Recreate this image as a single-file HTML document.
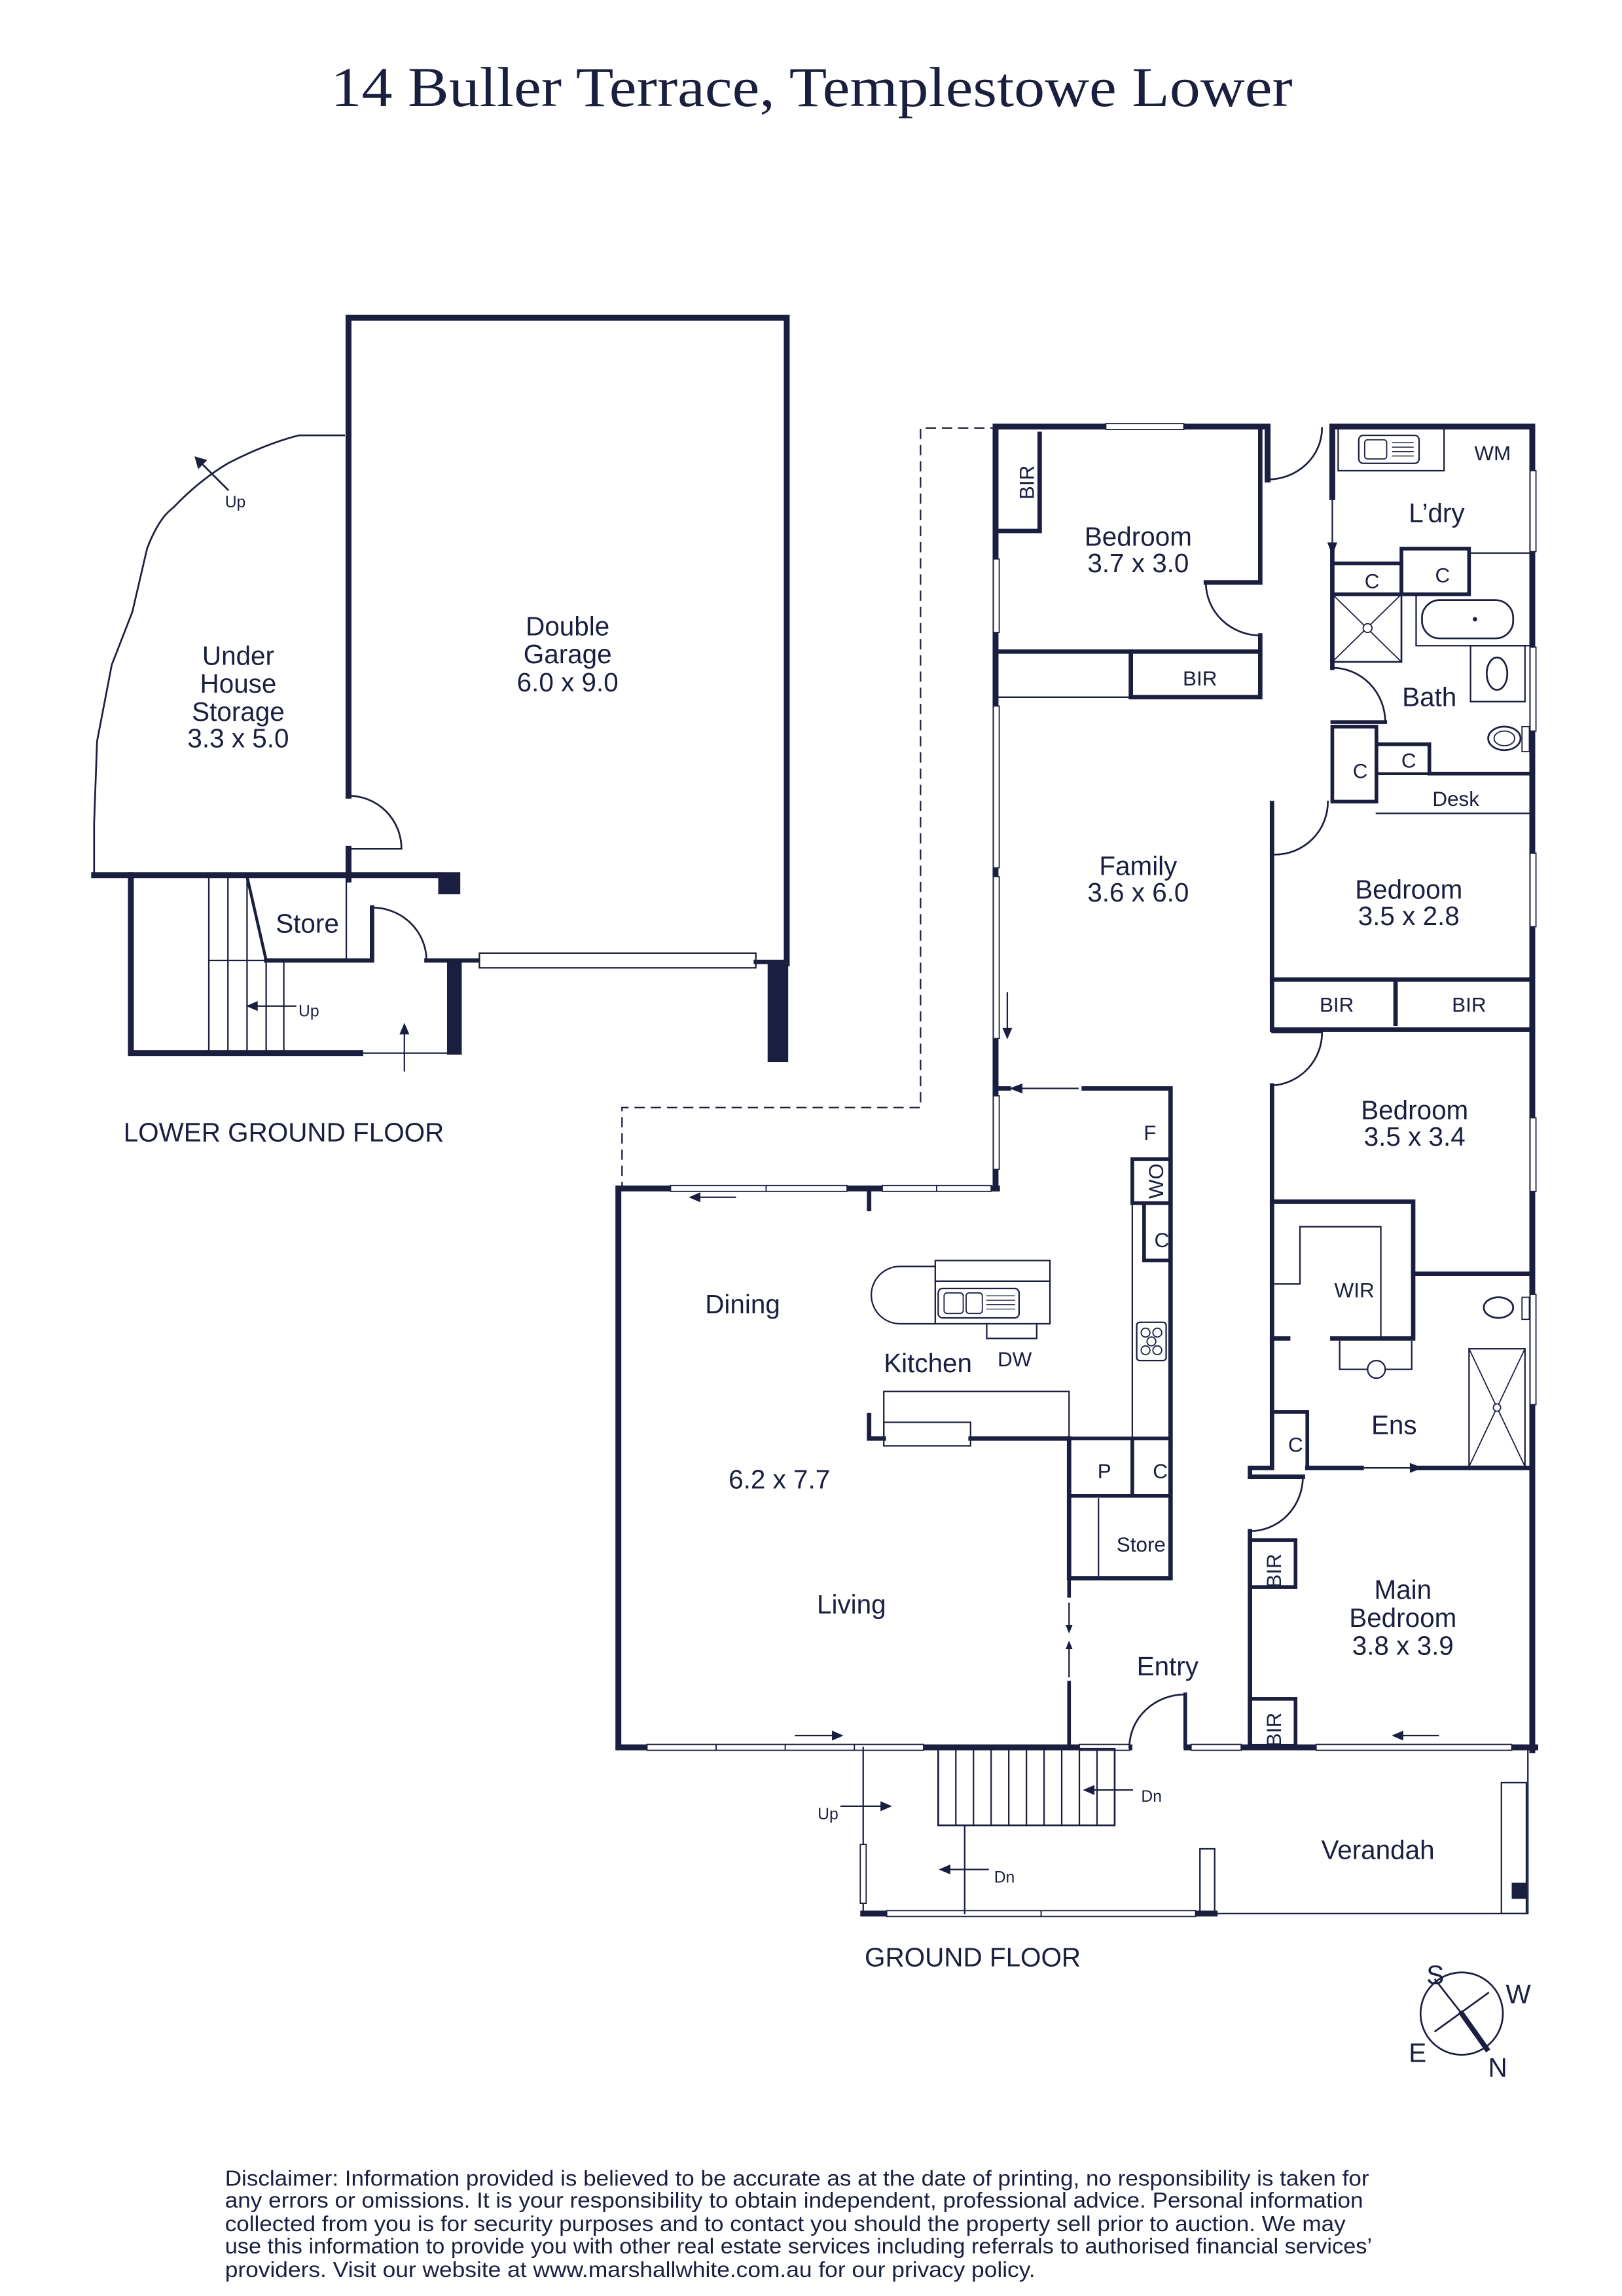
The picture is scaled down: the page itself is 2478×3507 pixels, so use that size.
<!DOCTYPE html>
<html><head><meta charset="utf-8"><style>
html,body{margin:0;padding:0;background:#fff;}
svg{display:block;}
text{font-family:"Liberation Sans",sans-serif;fill:#1b1f3f;}
</style></head><body>
<svg width="2478" height="3507" viewBox="0 0 1103 1561" xmlns="http://www.w3.org/2000/svg">
<rect width="1103" height="1561" fill="#fff"/>
<text x="552" y="72" text-anchor="middle" style="font-family:'Liberation Serif',serif" font-size="38" textLength="654" lengthAdjust="spacingAndGlyphs">14 Buller Terrace, Templestowe Lower</text>

<g stroke="#1b1f3f" fill="none" stroke-linecap="square">
<path d="M237,541 L237,216 L535,216 L535,655" stroke-width="4"/>
<rect x="522" y="655" width="14" height="67" fill="#1b1f3f" stroke="none"/>
<path d="M237,541 A36,36 0 0 1 273,577 L237,577" stroke-width="1.2"/>
<path d="M237,577 L237,598" stroke-width="4"/>
<path d="M64,595 L298,595" stroke-width="4"/>
<rect x="298" y="593" width="15" height="15" fill="#1b1f3f" stroke="none"/>
<path d="M64,595 L64,560 L66,504 L76,452 L90,416 L100,373 Q108,352 118,345 Q135,327 155,315 Q180,302 203,296 L234,296" stroke-width="1.2"/>
<path d="M155,333 L135,313" stroke-width="1.2"/>
<path d="M133,311 l7,2 l-5,5z" fill="#1b1f3f" stroke-width="1"/>
<path d="M89,595 L89,716 L245,716" stroke-width="4"/>
<path d="M245,716 L304,716" stroke-width="1"/>
<rect x="304" y="653" width="10" height="64" fill="#1b1f3f" stroke="none"/>
<path d="M181,653 L253,653 L253,617" stroke-width="3"/>
<path d="M253,617 A37,36 0 0 1 290,653 L326,653" stroke-width="1.2"/>
<path d="M290,653 L326,653" stroke-width="3"/>
<rect x="326" y="648" width="188" height="10" fill="#fff" stroke-width="1"/>
<path d="M514,654 L535,654" stroke-width="3"/>
<path d="M235.5,597 L235.5,653" stroke-width="1"/>
<path d="M168,596 L181,653" stroke-width="2"/>
<g stroke-width="1"><path d="M142,596 L142,716 M155,596 L155,716 M168,596 L168,716 M181,653 L181,716 M193,653 L193,716 M142,653 L181,653"/></g>
<path d="M201,684 L170,684" stroke-width="1"/><path d="M168,684 l7,-3 l0,6z" fill="#1b1f3f" stroke-width="0.5"/>
<path d="M275,728 L275,699" stroke-width="1"/><path d="M275,696 l-3,7 l6,0z" fill="#1b1f3f" stroke-width="0.5"/>

<path d="M680,291 L626,291 L626,753 L423,753 L423,808" stroke-width="1" stroke-dasharray="6,5"/>

<path d="M677,808 L677,290 L862,290 L862,326" stroke-width="4"/>
<rect x="752" y="288" width="53" height="4" fill="#fff" stroke-width="0.8"/>
<path d="M857,290 L857,396 L820,396" stroke-width="3"/>
<path d="M820,396 A37,36 0 0 0 857,432" stroke-width="1.2"/>
<path d="M857,432 L857,474 L769,474 L769,443 L857,443" stroke-width="3"/>
<path d="M677,443 L769,443" stroke-width="3"/>
<path d="M677,474 L769,474" stroke-width="1"/>
<path d="M707,295 L707,361 L679,361" stroke-width="3"/>
<path d="M862,326 A37,35 0 0 0 899,291" stroke-width="1.2"/>
<rect x="675.5" y="380" width="4" height="50" fill="#fff" stroke-width="0.8"/>
<rect x="675.5" y="480" width="4" height="110" fill="#fff" stroke-width="0.8"/>
<rect x="675.5" y="596" width="4" height="110" fill="#fff" stroke-width="0.8"/>
<rect x="675.5" y="745" width="4" height="50" fill="#fff" stroke-width="0.8"/>
<path d="M685,675 L685,702" stroke-width="1"/><path d="M685,706 l-3,-7 l6,0z" fill="#1b1f3f" stroke-width="0.5"/>

<path d="M906,338 L906,290 L1042,290 L1042,1190" stroke-width="4"/>
<path d="M906,374 L906,454" stroke-width="3"/>
<path d="M906,340 L906,372" stroke-width="1"/><path d="M906,377 l-3,-8 l6,0z" fill="#1b1f3f" stroke-width="0.5"/>
<path d="M906,454 A36,37 0 0 1 942,491" stroke-width="1.2"/>
<path d="M910,292 L910,320 L982,320 L982,292" stroke-width="1"/>
<rect x="924" y="296" width="41" height="19" rx="3" stroke-width="1"/>
<rect x="928" y="299" width="15" height="13" rx="2" stroke-width="0.8"/>
<path d="M947,301 h14 M947,304 h14 M947,307 h14 M947,310 h14" stroke-width="0.7"/>
<rect x="906" y="383" width="47" height="21" stroke-width="2.5"/>
<rect x="953" y="373" width="46" height="31" stroke-width="2.5"/>
<path d="M999,376 L1042,376" stroke-width="1"/>
<rect x="906" y="404" width="47" height="46" stroke-width="1.2"/>
<path d="M906,404 L953,450 M953,404 L906,450" stroke-width="0.8"/>
<circle cx="930" cy="427" r="3" fill="#fff" stroke-width="0.8"/>
<path d="M953,404 L963,404 L963,439 L1040,439" stroke-width="1"/>
<rect x="967" y="408" width="62" height="26" rx="12" stroke-width="1.2"/>
<circle cx="1003" cy="421" r="1.5" fill="#1b1f3f" stroke="none"/>
<rect x="1000" y="439" width="37" height="38" stroke-width="1"/>
<ellipse cx="1018" cy="458" rx="7" ry="11" stroke-width="1.2"/>
<ellipse cx="1023" cy="502" rx="11" ry="8" stroke-width="1.2"/>
<ellipse cx="1023" cy="502" rx="7" ry="5" stroke-width="0.8"/>
<rect x="1035" y="494" width="5" height="17" stroke-width="0.8"/>
<path d="M906,491 L942,491" stroke-width="2.5"/>
<rect x="906" y="494" width="30" height="51" stroke-width="2.5"/>
<path d="M936,506 L972,506 L972,526 L1042,526" stroke-width="2.5"/>
<path d="M936,526 L972,526" stroke-width="2"/>
<path d="M936,553 L1040,553" stroke-width="1"/>
<rect x="1040.5" y="320" width="4" height="55" fill="#fff" stroke-width="0.8"/>
<rect x="1040.5" y="440" width="4" height="57" fill="#fff" stroke-width="0.8"/>
<rect x="1040.5" y="580" width="4" height="50" fill="#fff" stroke-width="0.8"/>
<rect x="1040.5" y="760" width="4" height="50" fill="#fff" stroke-width="0.8"/>
<rect x="1040.5" y="880" width="4" height="75" fill="#fff" stroke-width="0.8"/>

<path d="M865,546 L865,700 L1040,700" stroke-width="3"/>
<path d="M867,581 A36,36 0 0 0 903,545" stroke-width="1.2"/>
<path d="M865,666 L1040,666 M949,666 L949,696" stroke-width="3"/>
<path d="M865,702 L899,702" stroke-width="1"/>
<path d="M865,738 A36,36 0 0 0 899,701" stroke-width="1.2"/>
<path d="M865,738 L865,996" stroke-width="3"/>
<path d="M865,817 L961,817 L961,910 L906,910" stroke-width="3"/>
<path d="M865,910 L876,910" stroke-width="3"/>
<path d="M865,873 L884,873 L884,834 L939,834 L939,909" stroke-width="1"/>
<path d="M961,866 L1042,866" stroke-width="3"/>
<path d="M911,912 L911,931 L960,931 L960,912" stroke-width="1"/>
<circle cx="936" cy="931" r="6" fill="#fff" stroke-width="1"/>
<ellipse cx="1019" cy="889" rx="10" ry="7" stroke-width="1.2"/>
<rect x="1035" y="882" width="5" height="15" stroke-width="0.8"/>
<rect x="999" y="917" width="38" height="80" stroke-width="1"/>
<path d="M999,917 L1037,997 M1037,917 L999,997" stroke-width="0.8"/>
<circle cx="1018" cy="957" r="2.5" fill="#fff" stroke-width="0.8"/>
<path d="M865,960 L889,960 L889,997" stroke-width="2.5"/>
<path d="M889,998 L926,998 M965,998 L1042,998" stroke-width="3"/>
<path d="M928,998 L961,998" stroke-width="1"/><path d="M967,998 l-8,-3 l0,6z" fill="#1b1f3f" stroke-width="0.5"/>
<path d="M865,998 L850,998 L850,1004 L886,1004" stroke-width="3"/>
<path d="M886,1004 A36,37 0 0 1 850,1041" stroke-width="1.2"/>
<path d="M850,1041 L850,1188" stroke-width="3"/>
<rect x="850" y="1047" width="31" height="32" stroke-width="2.5"/>
<rect x="850" y="1155" width="31" height="32" stroke-width="2.5"/>
<path d="M807,1188 L1044,1188" stroke-width="4"/>
<rect x="810" y="1186" width="34" height="4" fill="#fff" stroke-width="0.8"/>
<rect x="895" y="1186" width="133" height="4" fill="#fff" stroke-width="0.8"/>
<path d="M978,1180 L952,1180" stroke-width="1"/><path d="M947,1180 l7,-3 l0,6z" fill="#1b1f3f" stroke-width="0.5"/>

<path d="M737,740 L796,740 L796,1073 L727,1073 L727,978" stroke-width="3"/>
<path d="M690,740 L733,740" stroke-width="1"/><path d="M687,740 l8,-3 l0,6z" fill="#1b1f3f" stroke-width="0.5"/>
<path d="M680,740 L686,740" stroke-width="3"/>
<rect x="770" y="788" width="26" height="30" stroke-width="2.5"/>
<path d="M778,820 L778,857 L796,857" stroke-width="2.5"/>
<path d="M770,818 L770,978" stroke-width="1"/>
<rect x="773" y="899" width="20" height="26" rx="2" stroke-width="1"/>
<circle cx="779" cy="906" r="3" stroke-width="0.8"/><circle cx="787" cy="906" r="3" stroke-width="0.8"/><circle cx="783" cy="912" r="3" stroke-width="0.8"/><circle cx="779" cy="918" r="3" stroke-width="0.8"/><circle cx="787" cy="918" r="3" stroke-width="0.8"/>
<path d="M727,978 L796,978 M770,978 L770,1017 M727,1017 L796,1017" stroke-width="2.5"/>
<path d="M747,1019 L747,1073" stroke-width="1"/>
<path d="M601,978 L591,978 L591,962" stroke-width="3"/>
<path d="M660,978 L727,978" stroke-width="3"/>
<path d="M601,978 L601,946 L727,946 L727,978" stroke-width="1"/>
<rect x="601" y="967" width="59" height="16" stroke-width="1"/>
<path d="M636,861 L612,861 A19.5,19.5 0 0 0 612,900 L636,900" stroke-width="1"/>
<rect x="636" y="857" width="78" height="43" stroke-width="1"/>
<path d="M636,871 L714,871" stroke-width="1"/>
<rect x="638" y="876" width="55" height="20" rx="3" stroke-width="1"/>
<rect x="642" y="879" width="13" height="14" rx="2" stroke-width="0.8"/>
<rect x="657" y="879" width="11" height="14" rx="2" stroke-width="0.8"/>
<path d="M671,881 h19 M671,884 h19 M671,887 h19 M671,890 h19" stroke-width="0.6"/>
<path d="M671,900 L671,910 L705,910 L705,900" stroke-width="1"/>
<path d="M678,808 L420.5,808 L420.5,1188 L768,1188" stroke-width="4"/>
<rect x="456" y="806" width="65" height="4" fill="#fff" stroke-width="0.8"/>
<rect x="521" y="806" width="55" height="4" fill="#fff" stroke-width="0.8"/>
<rect x="600" y="806" width="37" height="4" fill="#fff" stroke-width="0.8"/>
<rect x="637" y="806" width="37" height="4" fill="#fff" stroke-width="0.8"/>
<path d="M591,808 L591,822" stroke-width="3"/>
<path d="M500,814 L472,814" stroke-width="1"/><path d="M469,814 l7,-3 l0,6z" fill="#1b1f3f" stroke-width="0.5"/>
<rect x="440" y="1186" width="47" height="4" fill="#fff" stroke-width="0.8"/>
<rect x="487" y="1186" width="47" height="4" fill="#fff" stroke-width="0.8"/>
<rect x="534" y="1186" width="47" height="4" fill="#fff" stroke-width="0.8"/>
<rect x="581" y="1186" width="47" height="4" fill="#fff" stroke-width="0.8"/>
<rect x="734" y="1186" width="34" height="4" fill="#fff" stroke-width="0.8"/>
<path d="M541,1180 L568,1180" stroke-width="1"/><path d="M573,1180 l-7,-3 l0,6z" fill="#1b1f3f" stroke-width="0.5"/>
<path d="M727,1073 L727,1085 M727,1144 L727,1188" stroke-width="2.5"/>
<path d="M727,1090 L727,1107 M727,1118 L727,1140" stroke-width="1"/>
<path d="M727,1110 l-2,-5 l4,0z M727,1116 l-2,5 l4,0z" fill="#1b1f3f" stroke-width="0.5"/>
<path d="M806,1188 L806,1152" stroke-width="2.5"/>
<path d="M806,1152 A38,36 0 0 0 768,1188" stroke-width="1.2"/>
<rect x="638" y="1189" width="120" height="52" stroke-width="1.2"/>
<path d="M650,1189v52 M662,1189v52 M674,1189v52 M686,1189v52 M698,1189v52 M710,1189v52 M722,1189v52 M734,1189v52 M746,1189v52" stroke-width="1"/>
<path d="M770,1217 L742,1217" stroke-width="1"/><path d="M737,1217 l7,-3 l0,6z" fill="#1b1f3f" stroke-width="0.5"/>
<path d="M587,1188 L587,1301" stroke-width="1"/>
<rect x="585" y="1254" width="4" height="40" fill="#fff" stroke-width="0.8"/>
<path d="M587,1301 L826,1301" stroke-width="4"/>
<rect x="603" y="1299" width="105" height="4" fill="#fff" stroke-width="0.8"/>
<rect x="708" y="1299" width="105" height="4" fill="#fff" stroke-width="0.8"/>
<path d="M826,1301 L1039,1301 L1039,1188" stroke-width="1"/>
<rect x="816" y="1257" width="10" height="44" stroke-width="1"/>
<rect x="1021" y="1212" width="17" height="89" stroke-width="1"/>
<rect x="1028" y="1280" width="10" height="11" fill="#1b1f3f" stroke="none"/>
<path d="M656,1241 L656,1301" stroke-width="1"/>
<path d="M672,1271 L644,1271" stroke-width="1"/><path d="M639,1271 l7,-3 l0,6z" fill="#1b1f3f" stroke-width="0.5"/>
<path d="M572,1228 L600,1228" stroke-width="1"/><path d="M606,1228 l-7,-3 l0,6z" fill="#1b1f3f" stroke-width="0.5"/>
<circle cx="994" cy="1369" r="28" stroke-width="1.2"/>
<path d="M976,1346 L994,1369 M1012,1355 L976,1381" stroke-width="1.2"/>
<path d="M994,1369 L1011,1393" stroke-width="3.5"/>
</g>

<g font-size="18" text-anchor="middle">
<text x="162" y="452">Under</text><text x="162" y="471">House</text><text x="162" y="490">Storage</text><text x="162" y="508">3.3 x 5.0</text>
<text x="386" y="432">Double</text><text x="386" y="451">Garage</text><text x="386" y="470">6.0 x 9.0</text>
<text x="209" y="634">Store</text>
<text x="774" y="371">Bedroom</text><text x="774" y="389">3.7 x 3.0</text>
<text x="774" y="595">Family</text><text x="774" y="613">3.6 x 6.0</text>
<text x="958" y="611">Bedroom</text><text x="958" y="629">3.5 x 2.8</text>
<text x="962" y="761">Bedroom</text><text x="962" y="779">3.5 x 3.4</text>
<text x="977" y="355">L’dry</text>
<text x="972" y="480">Bath</text>
<text x="948" y="975">Ens</text>
<text x="954" y="1087">Main</text><text x="954" y="1106">Bedroom</text><text x="954" y="1125">3.8 x 3.9</text>
<text x="505" y="893">Dining</text>
<text x="631" y="933">Kitchen</text>
<text x="530" y="1012">6.2 x 7.7</text>
<text x="579" y="1097">Living</text>
<text x="794" y="1139">Entry</text>
<text x="937" y="1264">Verandah</text>
</g>
<g font-size="14" text-anchor="middle">
<text x="1015" y="313">WM</text>
<text x="816" y="466">BIR</text>
<text x="933" y="400">C</text><text x="981" y="396">C</text>
<text x="925" y="529">C</text><text x="958" y="522">C</text>
<text x="990" y="548">Desk</text>
<text x="909" y="688">BIR</text><text x="999" y="688">BIR</text>
<text x="921" y="882">WIR</text>
<text x="881" y="987">C</text>
<text x="782" y="775">F</text>
<text x="790" y="848">C</text>
<text x="690" y="929">DW</text>
<text x="751" y="1005">P</text><text x="789" y="1005">C</text>
<text x="776" y="1055">Store</text>
<text transform="translate(703,328) rotate(-90)">BIR</text>
<text transform="translate(791,803) rotate(-90)">WO</text>
<text transform="translate(871,1068) rotate(-90)">BIR</text>
<text transform="translate(871,1176) rotate(-90)">BIR</text>
</g>
<g font-size="11">
<text x="153" y="345">Up</text>
<text x="203" y="691">Up</text>
<text x="776" y="1225">Dn</text>
<text x="676" y="1280">Dn</text>
<text x="556" y="1237">Up</text>
</g>
<g font-size="18">
<text x="84" y="776">LOWER GROUND FLOOR</text>
<text x="588" y="1337">GROUND FLOOR</text>
<text x="970" y="1349">S</text><text x="1024" y="1362">W</text>
<text x="958" y="1402">E</text><text x="1012" y="1412">N</text>
</g>
<g font-size="15">
<text x="153" y="1486" textLength="778" lengthAdjust="spacingAndGlyphs">Disclaimer: Information provided is believed to be accurate as at the date of printing, no responsibility is taken for</text>
<text x="153" y="1501" textLength="774" lengthAdjust="spacingAndGlyphs">any errors or omissions. It is your responsibility to obtain independent, professional advice. Personal information</text>
<text x="153" y="1517" textLength="762" lengthAdjust="spacingAndGlyphs">collected from you is for security purposes and to contact you should the property sell prior to auction. We may</text>
<text x="153" y="1532" textLength="780" lengthAdjust="spacingAndGlyphs">use this information to provide you with other real estate services including referrals to authorised financial services’</text>
<text x="153" y="1548" textLength="551" lengthAdjust="spacingAndGlyphs">providers. Visit our website at www.marshallwhite.com.au for our privacy policy.</text>
</g>
</svg>
</body></html>
